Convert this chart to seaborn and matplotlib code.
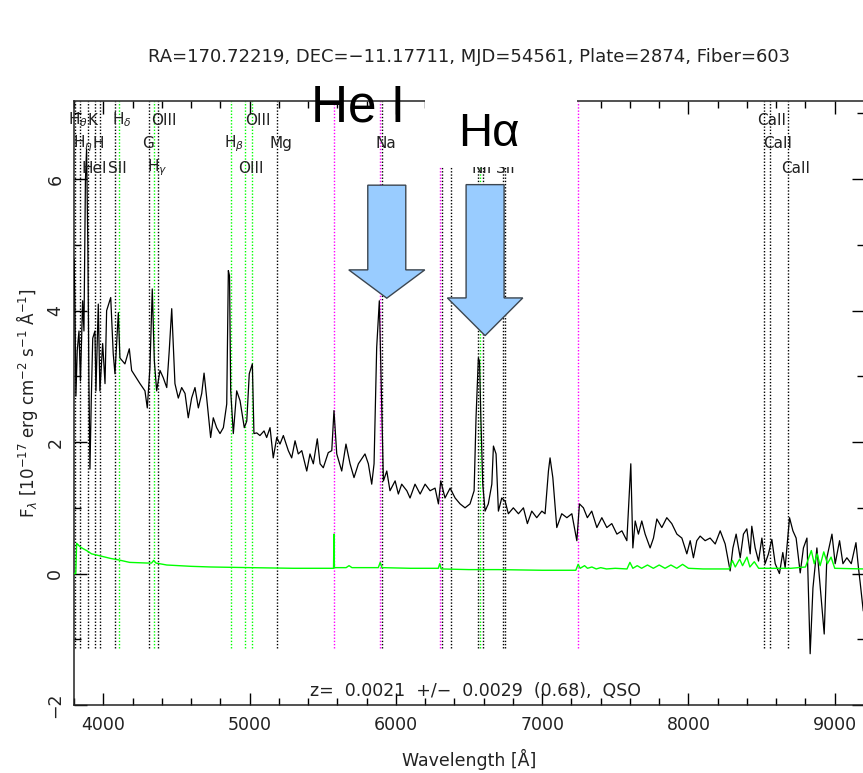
import matplotlib
matplotlib.use("Agg")
import matplotlib.pyplot as plt
import matplotlib.transforms as mtransforms
from matplotlib.patches import Polygon, Rectangle
from matplotlib.ticker import MultipleLocator
import pandas as pd
import seaborn as sns

sns.set_style("ticks")
plt.rcParams["font.family"] = ["DejaVu Sans"]
plt.rcParams["mathtext.fontset"] = "dejavusans"

# ---------------------------------------------------------------- data
REDSHIFT = 0.0021
TITLE = "RA=170.72219, DEC=\u221211.17711, MJD=54561, Plate=2874, Fiber=603"
ZTEXT = "z=  0.0021  +/\u2212  0.0029  (0.68),  QSO"

wave = [3800, 3806, 3813, 3822, 3834, 3844, 3859, 3868, 3878, 3886, 3895, 3902,
        3909, 3918, 3928, 3943, 3950, 3966, 3977, 3996, 4012, 4023, 4051, 4068,
        4080, 4103, 4114, 4148, 4178, 4194, 4217, 4251, 4285, 4301, 4319, 4335,
        4349, 4365, 4388, 4410, 4434, 4451, 4468, 4490, 4513, 4536, 4559, 4581,
        4604, 4627, 4650, 4673, 4689, 4707, 4734, 4752, 4775, 4798, 4821, 4844,
        4855, 4863, 4871, 4889, 4912, 4935, 4964, 4981, 4998, 5019, 5030, 5049,
        5071, 5099, 5117, 5140, 5162, 5186, 5208, 5231, 5265, 5288, 5311, 5333,
        5357, 5391, 5413, 5436, 5463, 5482, 5504, 5538, 5562, 5577, 5596, 5630,
        5659, 5687, 5714, 5744, 5789, 5812, 5835, 5851, 5869, 5887, 5904, 5915,
        5938, 5960, 5995, 6017, 6040, 6075, 6097, 6131, 6166, 6200, 6234, 6268,
        6291, 6307, 6336, 6371, 6405, 6439, 6473, 6507, 6535, 6548, 6564, 6572,
        6581, 6594, 6610, 6632, 6656, 6667, 6685, 6701, 6724, 6747, 6769, 6803,
        6838, 6872, 6899, 6929, 6963, 6998, 7020, 7043, 7054, 7073, 7100, 7134,
        7169, 7203, 7237, 7255, 7282, 7309, 7339, 7374, 7408, 7442, 7476, 7511,
        7545, 7579, 7606, 7620, 7636, 7658, 7681, 7704, 7738, 7761, 7784, 7818,
        7852, 7886, 7921, 7955, 7989, 8012, 8034, 8057, 8080, 8114, 8148, 8183,
        8217, 8251, 8285, 8304, 8326, 8354, 8376, 8399, 8422, 8433, 8456, 8479,
        8502, 8524, 8547, 8570, 8593, 8622, 8645, 8661, 8691, 8714, 8736, 8764,
        8786, 8810, 8832, 8851, 8878, 8901, 8928, 8946, 8981, 9003, 9033, 9056,
        9083, 9113, 9145, 9162, 9174, 9195]

flux = [4.79, 4.15, 2.70, 3.39, 3.69, 2.93, 4.15, 3.69, 5.98, 6.46, 4.91, 2.93,
        1.59, 2.63, 3.58, 3.69, 2.78, 4.10, 2.78, 3.50, 2.89, 4.00, 4.20, 3.35,
        3.04, 3.97, 3.28, 3.19, 3.42, 3.09, 3.01, 2.89, 2.78, 2.52, 3.13, 4.33,
        3.24, 2.78, 3.09, 2.98, 2.83, 3.39, 4.03, 2.89, 2.67, 2.83, 2.74, 2.37,
        2.67, 2.83, 2.52, 2.74, 3.05, 2.67, 2.07, 2.37, 2.22, 2.13, 2.22, 2.58,
        4.61, 4.53, 2.78, 2.13, 2.78, 2.63, 2.22, 2.32, 3.04, 3.19, 2.13, 2.14,
        2.10, 2.17, 2.07, 2.22, 1.76, 2.07, 1.97, 2.10, 1.87, 1.76, 2.02, 1.82,
        1.87, 1.56, 1.82, 1.67, 2.05, 1.67, 1.61, 1.84, 1.87, 2.48, 1.82, 1.56,
        1.97, 1.67, 1.46, 1.67, 1.82, 1.67, 1.36, 1.67, 3.44, 4.15, 2.48, 1.41,
        1.56, 1.26, 1.41, 1.21, 1.36, 1.26, 1.15, 1.36, 1.21, 1.36, 1.26, 1.30,
        1.06, 1.41, 1.15, 1.30, 1.15, 1.06, 1.00, 1.06, 1.26, 2.37, 3.28, 3.23,
        2.37, 1.36, 0.95, 1.06, 1.36, 1.94, 1.82, 0.95, 1.15, 1.10, 0.91, 1.00,
        0.91, 1.00, 0.76, 0.95, 0.85, 0.95, 0.91, 1.56, 1.76, 1.46, 0.70, 0.91,
        0.85, 0.91, 0.50, 1.06, 1.00, 0.85, 0.95, 0.70, 0.85, 0.70, 0.76, 0.60,
        0.65, 0.50, 1.67, 0.39, 0.80, 0.60, 0.80, 0.60, 0.39, 0.54, 0.83, 0.70,
        0.85, 0.76, 0.60, 0.54, 0.30, 0.50, 0.24, 0.50, 0.57, 0.50, 0.54, 0.45,
        0.65, 0.45, 0.04, 0.39, 0.60, 0.24, 0.60, 0.68, 0.30, 0.72, 0.39, 0.19,
        0.54, 0.15, 0.30, 0.52, 0.15, 0.00, 0.32, 0.09, 0.85, 0.65, 0.54, 0.01,
        0.39, 0.54, -1.22, -0.22, 0.39, -0.22, -0.92, 0.24, 0.60, 0.15, 0.50, 0.15,
        0.24, 0.15, 0.47, 0.09, -0.14, -0.57]

err_wave = [3800, 3812, 3818, 3845, 3886, 3920, 3977, 4050, 4100, 4180, 4300,
            4330, 4345, 4360, 4434, 4600, 4734, 5000, 5300, 5560, 5574, 5577,
            5580, 5660, 5680, 5700, 5880, 5893, 5905, 6100, 6290, 6300, 6310,
            6500, 6700, 7000, 7230, 7246, 7260, 7290, 7310, 7340, 7370, 7400,
            7440, 7500, 7580, 7600, 7620, 7650, 7680, 7720, 7760, 7800, 7840,
            7880, 7920, 7960, 8000, 8100, 8280, 8300, 8320, 8350, 8370, 8400,
            8420, 8450, 8480, 8600, 8700, 8800, 8840, 8860, 8880, 8900, 8925,
            8950, 8975, 9000, 9200]

err_flux = [0.00, 0.00, 0.46, 0.40, 0.35, 0.30, 0.27, 0.23, 0.21, 0.17, 0.16,
            0.16, 0.20, 0.16, 0.13, 0.11, 0.10, 0.09, 0.08, 0.08, 0.08, 0.60,
            0.09, 0.09, 0.12, 0.09, 0.09, 0.17, 0.09, 0.08, 0.08, 0.15, 0.07,
            0.06, 0.06, 0.05, 0.05, 0.14, 0.08, 0.12, 0.08, 0.10, 0.07, 0.09,
            0.07, 0.08, 0.07, 0.17, 0.08, 0.12, 0.08, 0.13, 0.08, 0.13, 0.08,
            0.13, 0.08, 0.14, 0.08, 0.07, 0.07, 0.20, 0.10, 0.22, 0.12, 0.25,
            0.10, 0.18, 0.08, 0.08, 0.08, 0.10, 0.35, 0.15, 0.30, 0.12, 0.33,
            0.15, 0.25, 0.08, 0.07]

# rest-frame wavelengths of the marked lines
line_rest = [3798.98, 3835.38, 3889.05, 3933.66, 3968.47, 4072.0, 4101.73,
             4304.4, 4340.46, 4363.2, 4861.33, 4958.91, 5006.84, 5175.0,
             5894.0, 6300.3, 6363.8, 6548.1, 6562.8, 6583.5, 6716.4, 6730.8,
             8498.0, 8542.1, 8662.1]
line_name = [r"H$_\theta$", r"H$_\eta$", "HeI", "K", "H", "SII", r"H$_\delta$",
             "G", r"H$_\gamma$", "OIII", r"H$_\beta$", "OIII", "OIII", "Mg",
             "Na", "OI", "OI", "NII", r"H$_\alpha$", "NII", "SII", "SII",
             "CaII", "CaII", "CaII"]
line_type = ["abs", "abs", "abs", "abs", "abs", "abs", "em", "abs", "em", "abs",
             "em", "em", "em", "abs", "abs", "abs", "abs", "abs", "em", "abs",
             "abs", "abs", "abs", "abs", "abs"]
# label row for each line (None: label sits under the Hα panel, not drawn)
line_row = [0, 1, 2, 0, 1, 2, 0, 1, 2, 0, 1, 2, 0, 1, 1, None, None, 2, None,
            None, 2, None, 0, 1, 2]

# night-sky lines, observed frame
sky_wave = [5577.3, 5893.0, 6300.3, 7246.0]

# ---------------------------------------------------------------- layout
W, H = 863, 773
DPI = 100
X0, X1, Y0, Y1 = 74, 864, 101, 705          # axes box in pixels
XLIM = (3800, 9200)
YLIM = (-2.0, 7.19)
TEXT = "#222222"
ROW_Y = [0.9685, 0.930, 0.889]

fig = plt.figure(figsize=(W / DPI, H / DPI), dpi=DPI)
ax = fig.add_axes([X0 / W, 1 - Y1 / H, (X1 - X0) / W, (Y1 - Y0) / H])

spec = pd.DataFrame({"wave": wave, "flux": flux})
noise = pd.DataFrame({"wave": err_wave, "flux": err_flux})

# spectral line markers
kind_color = {"abs": "black", "em": "#00ff00"}
for rest, kind in zip(line_rest, line_type):
    ax.vlines(rest * (1 + REDSHIFT), -1.13, YLIM[1], colors=kind_color[kind],
              linestyles=(0, (1, 1.3)), linewidth=1.0, zorder=1)
for w in sky_wave:
    ax.vlines(w, -1.13, YLIM[1], colors="#ff00ff",
              linestyles=(0, (1, 1.3)), linewidth=1.0, zorder=1)

sns.lineplot(data=spec, x="wave", y="flux", ax=ax, color="black",
             linewidth=0.9, estimator=None, sort=False, zorder=3)
sns.lineplot(data=noise, x="wave", y="flux", ax=ax, color="#00ff00",
             linewidth=1.0, estimator=None, sort=False, zorder=3)

# line labels, three staggered rows under the top axis
blend = mtransforms.blended_transform_factory(ax.transData, ax.transAxes)
lab_trans = mtransforms.offset_copy(blend, fig=fig, x=-7, y=0, units="dots")
for rest, name, row in zip(line_rest, line_name, line_row):
    if row is None:
        continue
    ax.text(rest * (1 + REDSHIFT), ROW_Y[row], name, transform=lab_trans,
            ha="left", va="center", fontsize=11, color=TEXT, zorder=4,
            clip_on=False)

ax.set_xlim(*XLIM)
ax.set_ylim(*YLIM)
ax.xaxis.set_major_locator(MultipleLocator(1000))
ax.xaxis.set_minor_locator(MultipleLocator(200))
ax.yaxis.set_major_locator(MultipleLocator(2))
ax.yaxis.set_minor_locator(MultipleLocator(1))
ax.tick_params(which="both", direction="in", top=True, right=True,
               color="black", width=1.0, labelcolor=TEXT, labelsize=12.5)
ax.tick_params(which="major", length=9)
ax.tick_params(which="minor", length=5)
ax.tick_params(axis="x", pad=8)
ax.tick_params(axis="y", pad=7, labelrotation=90)
for lab in ax.get_yticklabels():
    lab.set_verticalalignment("center")
for sp in ax.spines.values():
    sp.set_color("#222222")
    sp.set_linewidth(1.1)

ax.set_xlabel("Wavelength [Å]", fontsize=12.5, color=TEXT)
ax.xaxis.set_label_coords(0.5, -0.072)
ax.set_ylabel(r"F$_\lambda$ [10$^{-17}$ erg cm$^{-2}$ s$^{-1}$ Å$^{-1}$]",
              fontsize=12, color=TEXT, va="center")
ax.yaxis.set_label_coords(-0.059, 0.5)

ax.text(0.5, 1 + 44 / (Y1 - Y0), TITLE, transform=ax.transAxes, ha="center",
        va="center", fontsize=13, color=TEXT)
ax.text(0.508, 0.023, ZTEXT, transform=ax.transAxes, ha="center",
        va="center", fontsize=12.5, color=TEXT)

# call-outs: blank panel, big labels, arrows
ax.add_patch(Rectangle((6198, 6.19), 7236 - 6198, 7.35 - 6.19, facecolor="white",
                       edgecolor="none", zorder=10, clip_on=False))
ax.text(5741, 6.88, "He I", fontsize=37, family="Liberation Sans",
        ha="center", va="baseline", color="black", zorder=12, clip_on=False)
ax.text(6634, 6.50, "H\u03b1", fontsize=34, family="Liberation Sans",
        ha="center", va="baseline", color="black", zorder=12, clip_on=False)


def down_arrow(tip_x, tip_y, shaft_len, head_len, head_half, shaft_half=19):
    """Block arrow pointing down at (tip_x, tip_y); sizes in pixels."""
    verts = [(-shaft_half, shaft_len), (shaft_half, shaft_len),
             (shaft_half, head_len), (head_half, head_len), (0, 0),
             (-head_half, head_len), (-shaft_half, head_len)]
    verts = [(vx / DPI, vy / DPI) for vx, vy in verts]
    trans = fig.dpi_scale_trans + mtransforms.ScaledTranslation(
        tip_x, tip_y, ax.transData)
    ax.add_patch(Polygon(verts, closed=True, transform=trans,
                         facecolor="#99ccff", edgecolor="#3c4650",
                         linewidth=1.0, zorder=11, clip_on=False))


down_arrow(5938, 4.19, 113, 28.3, 38)
down_arrow(6610, 3.62, 151, 37.7, 37.7)

fig.savefig("out.png", dpi=DPI, facecolor="white")
